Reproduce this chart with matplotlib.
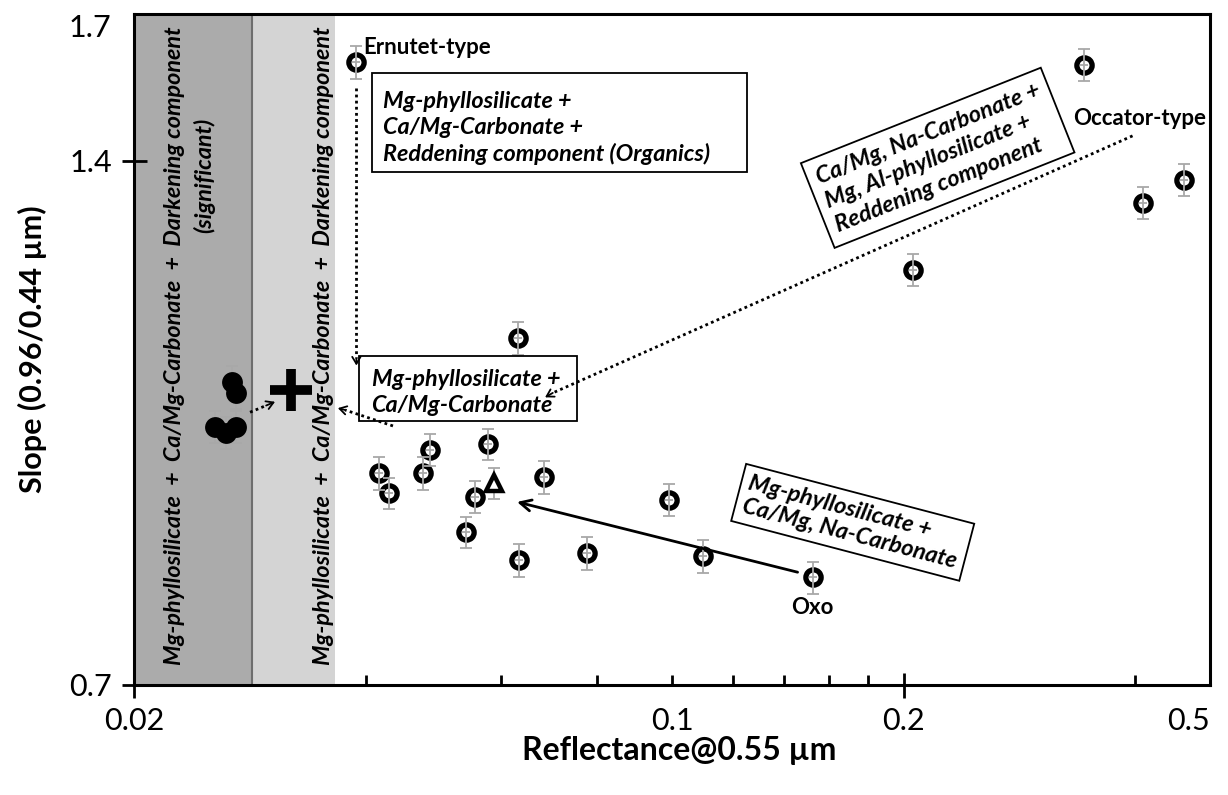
import matplotlib
matplotlib.use("Agg")
import matplotlib.pyplot as plt
from matplotlib.ticker import FixedLocator, NullLocator, FixedFormatter
from matplotlib.patches import Rectangle

plt.rcParams['font.family'] = ['Lato', 'DejaVu Sans']

# ---------------- data ----------------
open_x = [0.0389, 0.3426, 0.4088, 0.463, 0.2054, 0.0631, 0.0485, 0.0416, 0.0429,
          0.0475, 0.0577, 0.0555, 0.0681, 0.0540, 0.0632, 0.0775, 0.0991, 0.1097, 0.1523]
open_y = [1.595, 1.589, 1.324, 1.365, 1.212, 1.107, 0.955, 0.9265, 0.902,
          0.9265, 0.9625, 0.8975, 0.9215, 0.8566, 0.8255, 0.833, 0.894, 0.830, 0.807]
open_err = [0.034, 0.034, 0.028, 0.029, 0.026, 0.024, 0.020, 0.020, 0.019,
            0.020, 0.020, 0.019, 0.020, 0.018, 0.018, 0.018, 0.019, 0.018, 0.017]

tri_x = [0.0587]
tri_y = [0.914]
tri_err = [0.019]

dark_x = [0.0268, 0.0271, 0.0255, 0.0263, 0.0271]
dark_y = [1.045, 1.030, 0.9846, 0.9768, 0.9846]
dark_err = [0.022, 0.022, 0.021, 0.021, 0.021]

mean_x = [0.032]
mean_y = [1.034]

dark_region = (0.02, 0.0285)
light_region = (0.02, 0.0365)

xtick_vals = [0.02, 0.1, 0.2, 0.5]
xtick_labels = ['0.02', '0.1', '0.2', '0.5']
xminor_vals = [0.04, 0.06, 0.08, 0.1, 0.12, 0.14, 0.16, 0.18, 0.4]
ytick_vals = [0.7, 1.4, 1.7]
ytick_labels = ['0.7', '1.4', '1.7']

# ---------------- figure ----------------
fig = plt.figure(figsize=(12.28, 7.95), dpi=100)
ax = fig.add_axes([134/1228, 1-685/795, (1210-134)/1228, (685-14)/795])
ax.set_xscale('log')
ax.set_yscale('log')
ax.set_xlim(0.02, 0.5)
ax.set_ylim(0.7, 1.7)

ax.axvspan(*light_region, color='#d4d4d4', zorder=0, lw=0)
ax.axvspan(*dark_region, color='#ababab', zorder=0.5, lw=0)
ax.axvline(dark_region[1], color='#6e6e6e', lw=1.5, zorder=0.6)

bold_it = dict(fontweight='bold', fontstyle='italic')

# vertical texts in regions
ax.text(0.0226, 1.096, 'Mg-phyllosilicate  +  Ca/Mg-Carbonate  +  Darkening component',
        rotation=90, ha='center', va='center', fontsize=16.8, **bold_it, zorder=1)
ax.text(0.0247, 1.374, '(significant)', rotation=90, ha='center', va='center',
        fontsize=16.8, **bold_it, zorder=1)
ax.text(0.0353, 1.096, 'Mg-phyllosilicate  +  Ca/Mg-Carbonate  +  Darkening component',
        rotation=90, ha='center', va='center', fontsize=16.8, **bold_it, zorder=1)

# error bars
ecol = '#a8a8a8'
ax.errorbar(open_x, open_y, yerr=open_err, fmt='none', ecolor=ecol, elinewidth=1.3,
            capsize=4, capthick=1.3, zorder=4)
ax.errorbar(open_x, open_y, xerr=[[v*0.012 for v in open_x], [v*0.012 for v in open_x]],
            fmt='none', ecolor=ecol, elinewidth=1.3, capsize=0, zorder=4)
ax.errorbar(tri_x, tri_y, yerr=tri_err, fmt='none', ecolor=ecol, elinewidth=1.3,
            capsize=4, capthick=1.3, zorder=2)
ax.errorbar(dark_x, dark_y, yerr=dark_err, fmt='none', ecolor=ecol, elinewidth=1.3,
            capsize=4, capthick=1.3, zorder=2)

# markers
ax.plot(open_x, open_y, 'o', ms=11, mfc='white', mec='black', mew=3.8, zorder=3, ls='none')
ax.plot(tri_x, tri_y, '^', ms=11, mfc='white', mec='black', mew=3.2, zorder=3, ls='none')
ax.plot(dark_x, dark_y, 'o', ms=15, mfc='black', mec='black', mew=0, zorder=3, ls='none')
ax.plot(mean_x, mean_y, '+', ms=30, mec='black', mew=7, zorder=3, ls='none')

# boxes
box_kw = dict(fill=False, ec='black', lw=1.3, zorder=5)
ax.add_patch(Rectangle((0.0407, 1.379), 0.1251-0.0407, 1.572-1.379, **box_kw))
ax.text(0.0421, 1.462, 'Mg-phyllosilicate +\nCa/Mg-Carbonate +\nReddening component (Organics)',
        ha='left', va='center', fontsize=16.8, linespacing=1.3, **bold_it, zorder=5)

ax.add_patch(Rectangle((0.0392, 0.9925), 0.0752-0.0392, 1.081-0.9925, **box_kw))
ax.text(0.0407, 1.030, 'Mg-phyllosilicate +\nCa/Mg-Carbonate',
        ha='left', va='center', fontsize=16.8, linespacing=1.3, **bold_it, zorder=5)

ax.text(0.2214, 1.4056, 'Ca/Mg, Na-Carbonate +\nMg, Al-phyllosilicate +\nReddening component',
        rotation=21.7, rotation_mode='anchor', ha='center', va='center', multialignment='left',
        fontsize=16.8, linespacing=1.28, **bold_it, zorder=5,
        bbox=dict(boxstyle='square,pad=0.4', fc='white', ec='black', lw=1.3))

ax.text(0.1717, 0.868, 'Mg-phyllosilicate +\nCa/Mg, Na-Carbonate',
        rotation=-14.7, rotation_mode='anchor', ha='center', va='center', multialignment='left',
        fontsize=16.8, linespacing=1.12, **bold_it, zorder=5,
        bbox=dict(boxstyle='square,pad=0.32', fc='white', ec='black', lw=1.3))

# labels
ax.text(0.0397, 1.627, 'Ernutet-type', ha='left', va='center', fontsize=16, fontweight='bold')
ax.text(0.4936, 1.480, 'Occator-type', ha='right', va='center', fontsize=16, fontweight='bold')
ax.text(0.1523, 0.7757, 'Oxo', ha='center', va='center', fontsize=16, fontweight='bold')

# dotted arrows
def dotted_arrow(x0, y0, x1, y1, xh, yh):
    ax.plot([x0, xh], [y0, yh], ls=(0, (1, 1.2)), color='black', lw=2, zorder=6)
    ax.annotate('', xy=(x1, y1), xytext=(xh, yh),
                arrowprops=dict(arrowstyle='->,head_length=0.5,head_width=0.3', lw=1.3,
                                color='black', shrinkA=0, shrinkB=0), zorder=6)

dotted_arrow(0.0283, 1.004, 0.0305, 1.018, 0.0297, 1.013)
dotted_arrow(0.0434, 0.986, 0.0368, 1.0095, 0.0376, 1.007)
dotted_arrow(0.0389, 1.542, 0.0389, 1.068, 0.0389, 1.078)
dotted_arrow(0.3966, 1.447, 0.0684, 1.024, 0.0700, 1.030)

ax.annotate('', xy=(0.0629, 0.8917), xytext=(0.1456, 0.8126),
            arrowprops=dict(arrowstyle='->,head_length=0.8,head_width=0.4', lw=2,
                            color='black', shrinkA=0, shrinkB=0), zorder=6)

# axes styling
for s in ax.spines.values():
    s.set_linewidth(2.2)
    s.set_color('black')
    s.set_zorder(7)

ax.xaxis.set_major_locator(FixedLocator(xtick_vals))
ax.xaxis.set_major_formatter(FixedFormatter(xtick_labels))
ax.xaxis.set_minor_locator(FixedLocator(xminor_vals))
ax.xaxis.set_minor_formatter(FixedFormatter([''] * len(xminor_vals)))
ax.xaxis.remove_overlapping_locs = False
ax.tick_params(axis='x', which='major', direction='inout', length=18, width=2,
               labelsize=22, pad=7)
ax.tick_params(axis='x', which='minor', direction='in', length=7, width=2)
for t, v in zip(ax.xaxis.get_major_ticks(), xtick_vals):
    if v in (0.1, 0.5):
        t.tick1line.set_visible(False)
    if v == 0.5:
        t.label1.set_ha('right')

ax.yaxis.set_major_locator(FixedLocator(ytick_vals))
ax.yaxis.set_major_formatter(FixedFormatter(ytick_labels))
ax.yaxis.set_minor_locator(NullLocator())
ax.tick_params(axis='y', which='major', direction='inout', length=18, width=2,
               labelsize=22, pad=7)
for t, v in zip(ax.yaxis.get_major_ticks(), ytick_vals):
    if v == 1.7:
        t.tick1line.set_visible(False)
        t.label1.set_va('top')

ax.set_xlabel('Reflectance@0.55 µm', fontsize=23, fontweight='bold')
ax.xaxis.set_label_coords(0.507, -0.076)
ax.set_ylabel('Slope (0.96/0.44 µm)', fontsize=22, fontweight='bold')
ax.yaxis.set_label_coords(-0.081, 0.5)

fig.savefig('out.png', dpi=100)
